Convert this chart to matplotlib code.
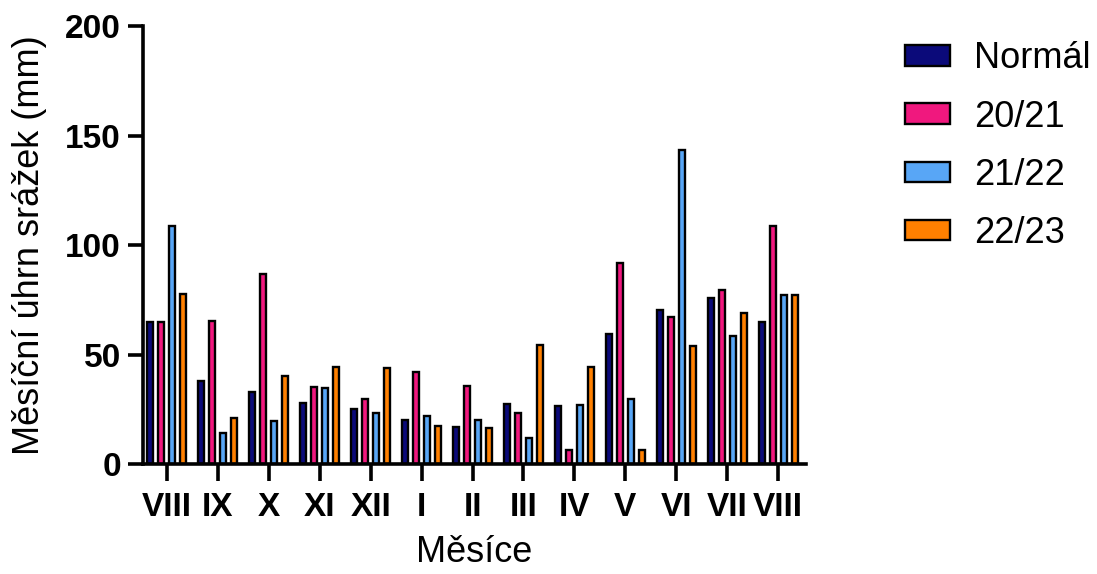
import numpy as np
import matplotlib
matplotlib.use("Agg")
import matplotlib.pyplot as plt

plt.rcParams['font.family'] = ['Liberation Sans', 'DejaVu Sans']

months = ["VIII", "IX", "X", "XI", "XII", "I", "II", "III", "IV", "V", "VI", "VII", "VIII"]
series_names = ["Normál", "20/21", "21/22", "22/23"]
normal = [65, 38, 33, 28, 25, 20, 17, 27.5, 26.5, 59.5, 70.5, 76, 65]
y2021 = [65, 65.5, 87, 35, 29.5, 42, 35.5, 23.5, 6.5, 92, 67, 79.5, 108.5]
y2122 = [108.5, 14, 19.5, 34.5, 23.5, 22, 20, 12, 27, 29.5, 143.5, 58.5, 77]
y2223 = [77.5, 21, 40, 44.5, 44, 17.5, 16.5, 54.5, 44.5, 6.5, 54, 69, 77]
colors = ["#0b0a7a", "#f0187e", "#58a6f6", "#ff8000"]

fig = plt.figure(figsize=(10.97, 5.74), dpi=100)
ax = fig.add_axes([0.1304, 0.1916, 0.6044, 0.763])

x = np.arange(len(months))
pitch = 0.216
width = 0.118
for i, (vals, name, col) in enumerate(zip([normal, y2021, y2122, y2223], series_names, colors)):
    ax.bar(x + (i - 1.5) * pitch, vals, width=width, color=col,
           edgecolor="black", linewidth=1.7, label=name, zorder=2)

ax.set_xlim(-0.47, 12.55)
ax.set_ylim(0, 200)
ax.set_yticks([0, 50, 100, 150, 200])
ax.set_xticks(x)
ax.set_xticklabels(months)

for s in ["top", "right"]:
    ax.spines[s].set_visible(False)
for s in ["left", "bottom"]:
    ax.spines[s].set_linewidth(2.6)

ax.tick_params(axis="both", width=2.6, labelsize=24)
ax.tick_params(axis="x", length=12, pad=8)
ax.tick_params(axis="y", length=11, pad=5)
for lab in ax.get_xticklabels() + ax.get_yticklabels():
    lab.set_fontweight("bold")

ax.set_ylabel("Měsíční úhrn srážek (mm)", fontsize=26)
ax.yaxis.set_label_coords(-0.145, 0.5)
ax.set_xlabel("Měsíce", fontsize=26, labelpad=9)

fig.legend(loc="upper left", bbox_to_anchor=(0.812, 0.953), frameon=False,
           fontsize=26, handlelength=1.25, handleheight=0.5,
           handletextpad=0.65, labelspacing=0.64, borderaxespad=0)

fig.savefig("out.png", dpi=100)
